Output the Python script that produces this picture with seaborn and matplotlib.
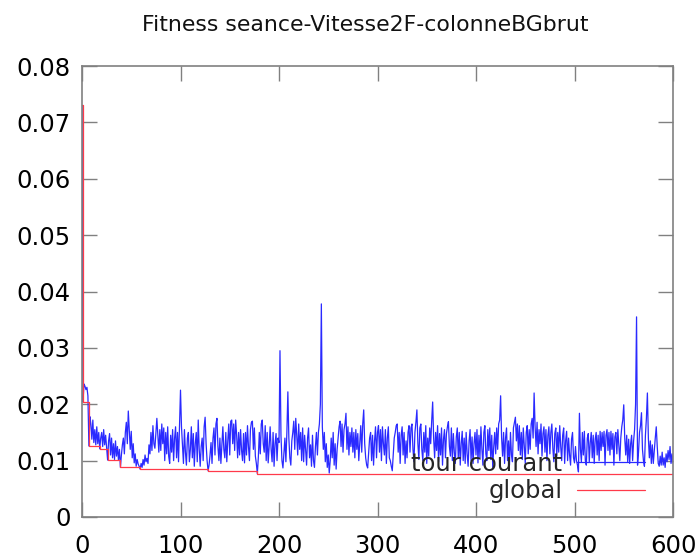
import numpy as np
import pandas as pd
import matplotlib
matplotlib.use("Agg")
import matplotlib.pyplot as plt
import seaborn as sns

TITLE = "Fitness seance-Vitesse2F-colonneBGbrut"
LABEL_COURANT = "tour courant"
LABEL_GLOBAL = "global"

# fitness of the current round, one value per iteration (0..600), in units of 1e-4
courant_1e4 = [
    730, 204, 236, 232, 226, 230, 215, 126, 178, 165, 138, 172, 132, 155, 128, 160, 130, 150, 121, 140,
    150, 125, 155, 128, 145, 122, 101, 135, 148, 110, 140, 105, 130, 102, 135, 108, 125, 101, 120, 88,
    110, 128, 140, 112, 150, 168, 130, 188, 155, 120, 152, 105, 130, 96, 112, 90, 102, 94, 90, 85,
    95, 88, 102, 92, 110, 98, 104, 95, 128, 112, 150, 118, 162, 130, 122, 150, 175, 145, 115, 155,
    118, 165, 130, 158, 100, 150, 112, 160, 108, 95, 145, 115, 155, 100, 140, 160, 105, 150, 98, 165,
    225, 160, 128, 95, 155, 115, 92, 140, 150, 98, 120, 160, 105, 148, 90, 130, 150, 98, 172, 120,
    90, 125, 140, 100, 160, 177, 130, 100, 82, 92, 110, 132, 95, 140, 158, 110, 165, 175, 125, 100,
    140, 95, 128, 160, 120, 105, 150, 98, 135, 165, 110, 170, 172, 130, 165, 118, 172, 145, 105, 150,
    110, 155, 118, 100, 148, 96, 150, 110, 162, 125, 100, 155, 168, 170, 120, 158, 108, 95, 77, 105,
    150, 112, 165, 172, 130, 115, 162, 100, 150, 96, 125, 160, 120, 98, 150, 90, 130, 148, 100, 140,
    132, 295, 145, 100, 87, 115, 140, 98, 150, 222, 140, 105, 92, 135, 150, 170, 120, 175, 145, 110,
    165, 120, 150, 100, 158, 98, 145, 120, 92, 140, 158, 105, 128, 90, 145, 100, 88, 125, 150, 110,
    150, 165, 200, 378, 160, 120, 150, 98, 130, 88, 110, 78, 100, 140, 105, 150, 92, 130, 85, 120,
    140, 160, 170, 125, 165, 115, 155, 165, 184, 120, 160, 110, 150, 125, 158, 115, 150, 105, 155, 120,
    148, 100, 130, 162, 115, 165, 190, 130, 105, 92, 87, 115, 140, 150, 100, 145, 92, 135, 160, 105,
    150, 162, 115, 155, 100, 160, 130, 110, 155, 95, 140, 160, 105, 100, 90, 82, 110, 140, 150, 162,
    165, 115, 150, 95, 145, 160, 110, 150, 95, 135, 105, 150, 162, 115, 158, 165, 120, 98, 150, 168,
    190, 130, 102, 158, 165, 120, 100, 150, 115, 162, 95, 140, 108, 158, 130, 170, 204, 140, 105, 150,
    118, 162, 98, 148, 110, 158, 92, 138, 155, 105, 148, 160, 169, 125, 108, 158, 100, 148, 115, 95,
    142, 158, 105, 150, 92, 130, 152, 100, 140, 95, 150, 112, 90, 135, 155, 100, 142, 95, 130, 150,
    110, 155, 96, 145, 105, 160, 120, 92, 150, 162, 112, 100, 155, 118, 158, 102, 145, 88, 125, 150,
    112, 158, 120, 165, 172, 215, 140, 108, 150, 95, 140, 158, 100, 135, 92, 150, 110, 98, 158, 168,
    177, 135, 165, 118, 162, 110, 150, 102, 158, 125, 95, 150, 162, 112, 155, 120, 165, 175, 140, 220,
    160, 125, 168, 112, 155, 130, 165, 108, 148, 160, 115, 155, 100, 145, 160, 112, 150, 165, 122, 98,
    148, 158, 108, 150, 115, 162, 125, 100, 145, 158, 95, 135, 152, 100, 140, 110, 92, 138, 150, 105,
    96, 125, 100, 92, 80, 184, 120, 98, 150, 110, 152, 100, 92, 140, 148, 98, 132, 150, 105, 145,
    95, 138, 150, 110, 145, 100, 152, 118, 150, 125, 152, 92, 145, 155, 118, 150, 110, 152, 120, 148,
    92, 142, 150, 112, 155, 128, 100, 140, 160, 172, 199, 140, 110, 145, 98, 138, 95, 130, 145, 100,
    135, 155, 200, 355, 92, 115, 150, 162, 185, 120, 100, 90, 145, 175, 220, 140, 105, 135, 95, 128,
    95, 118, 140, 160, 125, 95, 90, 108, 92, 115, 92, 105, 88, 112, 98, 118, 102, 125, 95, 112,
    96,
]

# best fitness found so far: iteration where a new best appears, and its value
global_iter = [0, 1, 7, 18, 26, 39, 59, 128, 178, 600]
global_best = [0.073, 0.0204, 0.0126, 0.0121, 0.0101, 0.0088, 0.0085, 0.0082, 0.0077, 0.0077]

x_ticks = [0, 100, 200, 300, 400, 500, 600]
y_ticks = [0, 0.01, 0.02, 0.03, 0.04, 0.05, 0.06, 0.07, 0.08]
y_tick_labels = ["0", "0.01", "0.02", "0.03", "0.04", "0.05", "0.06", "0.07", "0.08"]

courant = pd.DataFrame({
    "iteration": np.arange(len(courant_1e4)),
    "fitness": np.array(courant_1e4) / 1e4,
})
best = pd.DataFrame({"iteration": global_iter, "fitness": global_best})

sns.set_theme(style="white")
plt.rcParams["font.family"] = ["DejaVu Sans"]

frame_grey = "#808080"
fig = plt.figure(figsize=(6.98, 5.57), dpi=100)
ax = fig.add_axes([82 / 698, 1 - 517 / 557, (673 - 82) / 698, (517 - 66) / 557])

sns.lineplot(data=courant, x="iteration", y="fitness", ax=ax, color="#2a2aff",
             linewidth=0.9, label=LABEL_COURANT, estimator=None, sort=False)
sns.lineplot(data=best, x="iteration", y="fitness", ax=ax, color="#ff3a4a",
             linewidth=0.9, label=LABEL_GLOBAL, estimator=None, sort=False,
             drawstyle="steps-post")

ax.set_xlim(0, 600)
ax.set_ylim(0, 0.08)
ax.set_xticks(x_ticks)
ax.set_yticks(y_ticks)
ax.set_yticklabels(y_tick_labels)
ax.set_xlabel("")
ax.set_ylabel("")

for side in ax.spines.values():
    side.set_color(frame_grey)
    side.set_linewidth(1.2)
ax.tick_params(axis="both", which="major", direction="in", length=11, width=1.0,
               color=frame_grey, labelsize=17.5, labelcolor="black",
               top=True, right=True, bottom=True, left=True)
ax.tick_params(axis="x", pad=12)
ax.tick_params(axis="y", pad=8)

leg = ax.legend(loc="lower right", bbox_to_anchor=((645 - 82) / 591, 0.03),
                frameon=False, markerfirst=False, fontsize=17.5,
                handlelength=2.8, handletextpad=0.6, labelspacing=0.15,
                borderpad=0, borderaxespad=0)

fig.text(365 / 698, 1 - 25 / 557, TITLE, ha="center", va="center",
         fontsize=15.8, color="#111111")

fig.savefig("out.png", dpi=100)
